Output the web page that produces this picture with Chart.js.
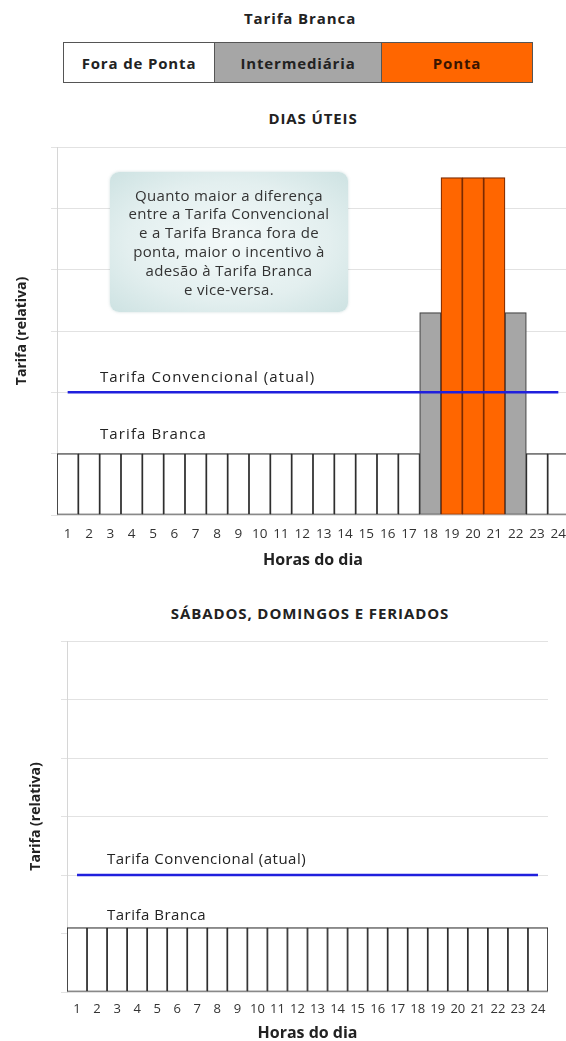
<!DOCTYPE html>
<html lang="pt">
<head>
<meta charset="utf-8">
<title>Tarifa Branca</title>
<script src="https://cdn.jsdelivr.net/npm/chart.js@4.4.1/dist/chart.umd.min.js"></script>
<style>
  html, body { margin: 0; padding: 0; background: #fff; overflow: hidden; }
  body { width: 566px; height: 1041px; position: relative; font-family: "Open Sans", sans-serif; color: #222; }
  .abs { position: absolute; }
  .title { font-weight: 700; font-size: 15px; letter-spacing: 0.9px; white-space: nowrap; transform: translate(-50%, -50%); }
  #legend { left: 63px; top: 42px; width: 470px; height: 41px; display: flex; border: 1px solid #555; box-sizing: border-box; }
  #legend div { display: flex; align-items: center; justify-content: center; font-weight: 700; font-size: 15px; letter-spacing: 0.85px; box-sizing: border-box; }
  #callout {
    left: 110px; top: 172px; width: 238px; height: 140px; border-radius: 9px;
    background: radial-gradient(ellipse at center, #f3f9f9 0%, #e3efef 60%, #cde2e2 100%);
    box-shadow: 0 0 3px rgba(120, 160, 160, 0.35);
    font-size: 15px; letter-spacing: 0.35px; line-height: 18.8px; color: #333; text-align: center;
    display: flex; align-items: center; justify-content: center; z-index: 2;
  }
</style>
</head>
<body>
<div class="abs title" style="left:300px; top:18px;">Tarifa Branca</div>
<div id="legend" class="abs">
  <div style="width:151px; background:#fff; border-right:1px solid #555;">Fora de Ponta</div>
  <div style="width:167px; background:#a6a6a6; border-right:1px solid #555;">Intermediária</div>
  <div style="flex:1; background:#ff6600; color:#3a1400;">Ponta</div>
</div>

<div class="abs title" style="left:313px; top:118px;">DIAS ÚTEIS</div>
<div class="abs" style="left:0; top:130px; width:580px; height:450px;"><canvas id="chartUteis"></canvas></div>
<div id="callout" class="abs">Quanto maior a diferença<br>entre a Tarifa Convencional<br>e a Tarifa Branca fora de<br>ponta, maior o incentivo à<br>adesão à Tarifa Branca<br>e vice-versa.</div>

<div class="abs title" style="left:310px; top:613px;">SÁBADOS, DOMINGOS E FERIADOS</div>
<div class="abs" style="left:0; top:625px; width:566px; height:420px;"><canvas id="chartFds"></canvas></div>

<script>
// horas do dia
const horas = ['1', '2', '3', '4', '5', '6', '7', '8', '9', '10', '11', '12',
               '13', '14', '15', '16', '17', '18', '19', '20', '21', '22', '23', '24'];

// posto tarifario de cada hora
const postosUteis = ['fora', 'fora', 'fora', 'fora', 'fora', 'fora', 'fora', 'fora', 'fora', 'fora', 'fora', 'fora',
                     'fora', 'fora', 'fora', 'fora', 'fora', 'inter', 'ponta', 'ponta', 'ponta', 'inter', 'fora', 'fora'];
const postosFds = ['fora', 'fora', 'fora', 'fora', 'fora', 'fora', 'fora', 'fora', 'fora', 'fora', 'fora', 'fora',
                   'fora', 'fora', 'fora', 'fora', 'fora', 'fora', 'fora', 'fora', 'fora', 'fora', 'fora', 'fora'];

// tarifa relativa
const brancaUteis = [1, 1, 1, 1, 1, 1, 1, 1, 1, 1, 1, 1,
                     1, 1, 1, 1, 1, 3.3, 5.5, 5.5, 5.5, 3.3, 1, 1];
const convencionalUteis = [2, 2, 2, 2, 2, 2, 2, 2, 2, 2, 2, 2,
                           2, 2, 2, 2, 2, 2, 2, 2, 2, 2, 2, 2];
const brancaFds = [1.1, 1.1, 1.1, 1.1, 1.1, 1.1, 1.1, 1.1, 1.1, 1.1, 1.1, 1.1,
                   1.1, 1.1, 1.1, 1.1, 1.1, 1.1, 1.1, 1.1, 1.1, 1.1, 1.1, 1.1];
const convencionalFds = [2, 2, 2, 2, 2, 2, 2, 2, 2, 2, 2, 2,
                         2, 2, 2, 2, 2, 2, 2, 2, 2, 2, 2, 2];
const yMax = 6;

const fillCor = { fora: '#ffffff', inter: '#a6a6a6', ponta: '#ff6600' };
const bordaCor = { fora: '#2e2e2e', inter: '#444444', ponta: '#7a2a00' };

// escreve os rotulos das linhas dentro do grafico
const rotulos = {
    id: 'rotulos',
    afterDatasetsDraw(chart, args, opts) {
        const { ctx, chartArea, scales } = chart;
        ctx.save();
        ctx.font = '15px "Open Sans"';
        ctx.letterSpacing = opts.espaco + 'px';
        ctx.fillStyle = '#222';
        ctx.textBaseline = 'middle';
        opts.itens.forEach(function(it) {
            ctx.fillText(it.texto, chartArea.left + opts.dx, scales.y.getPixelForValue(it.valor) + it.dy);
        });
        ctx.restore();
    }
};

function criaGrafico(id, postos, branca, convencional, cfg) {
    const ctx = document.getElementById(id).getContext('2d');
    return new Chart(ctx, {
        type: 'bar',
        data: {
            labels: horas,
            datasets: [{
                type: 'line',
                label: 'Tarifa Convencional (atual)',
                data: convencional,
                borderColor: '#2020dd',
                borderWidth: 2.5,
                pointRadius: 0,
                order: 0
            }, {
                label: 'Tarifa Branca',
                data: branca,
                backgroundColor: postos.map(p => fillCor[p]),
                borderColor: postos.map(p => bordaCor[p]),
                borderWidth: 1.2,
                borderSkipped: false,
                categoryPercentage: 1,
                barPercentage: 1,
                order: 1
            }]
        },
        options: {
            responsive: true,
            maintainAspectRatio: false,
            animation: false,
            layout: { padding: { top: cfg.padTop, right: cfg.padRight, left: 0, bottom: 0 } },
            plugins: {
                legend: { display: false },
                tooltip: { enabled: false },
                rotulos: { dx: cfg.dx, espaco: cfg.espaco, itens: cfg.itens }
            },
            scales: {
                x: {
                    grid: { display: false, drawTicks: false },
                    border: { display: false },
                    ticks: { color: '#333', font: { family: 'Open Sans', size: cfg.tickSize }, padding: cfg.tickPad, maxRotation: 0, autoSkip: false },
                    title: { display: true, text: 'Horas do dia', color: '#222', font: { family: 'Open Sans', size: 16, weight: 'bold' }, padding: { top: 0, bottom: cfg.xTitlePad } },
                    afterFit: function(s) { s.height = cfg.xHeight; }
                },
                y: {
                    min: 0,
                    max: yMax,
                    ticks: { display: false, stepSize: 1 },
                    grid: { color: '#e2e2e2', tickLength: 6 },
                    border: { color: '#d6d6d6' },
                    title: { display: true, text: 'Tarifa (relativa)', color: '#222', font: { family: 'Open Sans', size: 14, weight: 'bold' }, padding: { top: cfg.yTitlePad, bottom: 0 } },
                    afterFit: function(s) { s.width = cfg.yWidth; }
                }
            }
        },
        plugins: [rotulos]
    });
}

criaGrafico('chartUteis', postosUteis, brancaUteis, convencionalUteis, {
    padTop: 17, padRight: 11, yWidth: 57, xHeight: 65, tickSize: 13.5, tickPad: 11, xTitlePad: 10, yTitlePad: 13.5,
    dx: 43, espaco: 1.1,
    itens: [{ texto: 'Tarifa Convencional (atual)', valor: 2, dy: -15 }, { texto: 'Tarifa Branca', valor: 1, dy: -19 }]
});

criaGrafico('chartFds', postosFds, brancaFds, convencionalFds, {
    padTop: 16, padRight: 18, yWidth: 67, xHeight: 53, tickSize: 13, tickPad: 9, xTitlePad: 1.5, yTitlePad: 27.5,
    dx: 40, espaco: 0.5,
    itens: [{ texto: 'Tarifa Convencional (atual)', valor: 2, dy: -15 }, { texto: 'Tarifa Branca', valor: 1.1, dy: -12 }]
});
</script>
</body>
</html>
